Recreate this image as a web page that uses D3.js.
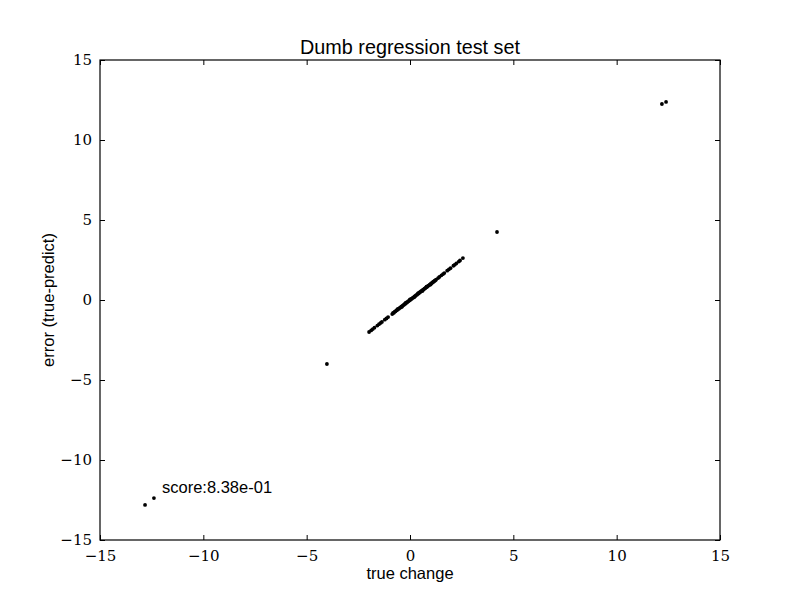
<!DOCTYPE html>
<html>
<head>
<meta charset="utf-8">
<script src="https://cdn.jsdelivr.net/npm/d3@7"></script>
<style>
  body { margin: 0; background: #fff; }
  svg { display: block; }
  .tick text { font-family: "DejaVu Serif", "Liberation Serif", serif; font-size: 15px; fill: #000; }
  .lbl { font-family: "Liberation Sans", Arial, sans-serif; fill: #000; }
</style>
</head>
<body>
<svg id="chart"></svg>
<script>
const width = 800;
const height = 600;
const margin = {top: 60, right: 80, bottom: 60, left: 100};

// true change vs error
const trueChange = [
  -12.82, -12.39, -4.02, 4.21, 12.19, 12.39,
  -1.98, -1.88, -1.80, -1.72, -1.58, -1.50, -1.42, -1.36, -1.22, -1.14, -1.06,
  -0.86, -0.82, -0.78, -0.74, -0.70, -0.66, -0.62, -0.58, -0.54, -0.50, -0.46, -0.42, -0.38, -0.34, -0.30,
  -0.26, -0.22, -0.18, -0.14, -0.10, -0.06, -0.02, 0.02, 0.06, 0.10, 0.14, 0.18, 0.22, 0.26, 0.30,
  0.34, 0.38, 0.42, 0.46, 0.50, 0.54, 0.58, 0.62, 0.66, 0.70, 0.74, 0.78, 0.82, 0.86, 0.90, 0.94,
  0.98, 1.02, 1.06, 1.10, 1.14, 1.18, 1.22, 1.26,
  -0.60, -0.40, -0.20, 0.00, 0.20, 0.40, 0.60, 0.80, 1.00,
  1.36, 1.42, 1.52, 1.60, 1.66, 1.80, 1.88, 1.96, 2.10, 2.16, 2.24, 2.36, 2.42, 2.56
];
const errorVal = [
  -12.81, -12.38, -4.00, 4.25, 12.25, 12.38,
  -2.00, -1.90, -1.82, -1.73, -1.60, -1.51, -1.43, -1.37, -1.23, -1.15, -1.07,
  -0.88, -0.81, -0.80, -0.73, -0.71, -0.65, -0.63, -0.57, -0.55, -0.49, -0.47, -0.41, -0.39, -0.33, -0.31,
  -0.25, -0.23, -0.17, -0.15, -0.09, -0.07, -0.01, 0.01, 0.07, 0.09, 0.15, 0.17, 0.23, 0.25, 0.31,
  0.33, 0.39, 0.41, 0.47, 0.50, 0.55, 0.58, 0.63, 0.66, 0.71, 0.74, 0.79, 0.82, 0.87, 0.90, 0.95,
  0.98, 1.03, 1.06, 1.11, 1.14, 1.19, 1.22, 1.27,
  -0.57, -0.43, -0.17, 0.03, 0.17, 0.43, 0.57, 0.83, 0.97,
  1.37, 1.44, 1.54, 1.62, 1.68, 1.83, 1.91, 1.99, 2.14, 2.20, 2.28, 2.40, 2.47, 2.62
];
const tickValues = [-15, -10, -5, 0, 5, 10, 15];
const scoreText = "score:8.38e-01";
const scorePos = [-12.0, -12.05];

const points = trueChange.map((x, i) => ({x: x, y: errorVal[i]}));

const svg = d3.select('#chart')
    .attr('width', width)
    .attr('height', height);

const x = d3.scaleLinear()
    .domain([-15, 15])
    .range([margin.left, width - margin.right]);
const y = d3.scaleLinear()
    .domain([-15, 15])
    .range([height - margin.bottom, margin.top]);

const fmt = d => (d < 0 ? '\u2212' : '') + Math.abs(d);

// inward ticks on all four sides
svg.append('g')
    .attr('transform', `translate(0,${height - margin.bottom})`)
    .call(d3.axisBottom(x).tickValues(tickValues).tickFormat(fmt).tickSizeInner(-5).tickSizeOuter(0).tickPadding(10))
    .call(g => g.select('.domain').remove());
svg.append('g')
    .attr('transform', `translate(0,${margin.top})`)
    .call(d3.axisTop(x).tickValues(tickValues).tickFormat('').tickSizeInner(-5).tickSizeOuter(0))
    .call(g => g.select('.domain').remove());
svg.append('g')
    .attr('transform', `translate(${margin.left},0)`)
    .call(d3.axisLeft(y).tickValues(tickValues).tickFormat(fmt).tickSizeInner(-5).tickSizeOuter(0).tickPadding(8))
    .call(g => g.select('.domain').remove());
svg.append('g')
    .attr('transform', `translate(${width - margin.right},0)`)
    .call(d3.axisRight(y).tickValues(tickValues).tickFormat('').tickSizeInner(-5).tickSizeOuter(0))
    .call(g => g.select('.domain').remove());

svg.selectAll('.tick line').attr('stroke', '#000').attr('stroke-width', 1);

svg.append('rect')
    .attr('x', margin.left)
    .attr('y', margin.top)
    .attr('width', width - margin.left - margin.right)
    .attr('height', height - margin.top - margin.bottom)
    .attr('fill', 'none')
    .attr('stroke', '#000')
    .attr('stroke-width', 1.2);

svg.append('g')
  .selectAll('circle')
  .data(points)
  .enter()
  .append('circle')
    .attr('cx', d => x(d.x))
    .attr('cy', d => y(d.y))
    .attr('r', 1.9)
    .attr('fill', '#000');

svg.append('text')
    .attr('class', 'lbl')
    .attr('x', x(scorePos[0]))
    .attr('y', y(scorePos[1]))
    .attr('font-size', 16.5)
    .text(scoreText);

svg.append('text')
    .attr('class', 'lbl')
    .attr('x', (margin.left + width - margin.right) / 2)
    .attr('y', 54)
    .attr('text-anchor', 'middle')
    .attr('font-size', 19.8)
    .text('Dumb regression test set');

svg.append('text')
    .attr('class', 'lbl')
    .attr('x', (margin.left + width - margin.right) / 2)
    .attr('y', 579)
    .attr('text-anchor', 'middle')
    .attr('font-size', 16.5)
    .text('true change');

svg.append('text')
    .attr('class', 'lbl')
    .attr('transform', `translate(54,${(margin.top + height - margin.bottom) / 2}) rotate(-90)`)
    .attr('text-anchor', 'middle')
    .attr('font-size', 16.5)
    .text('error (true-predict)');
</script>
</body>
</html>
